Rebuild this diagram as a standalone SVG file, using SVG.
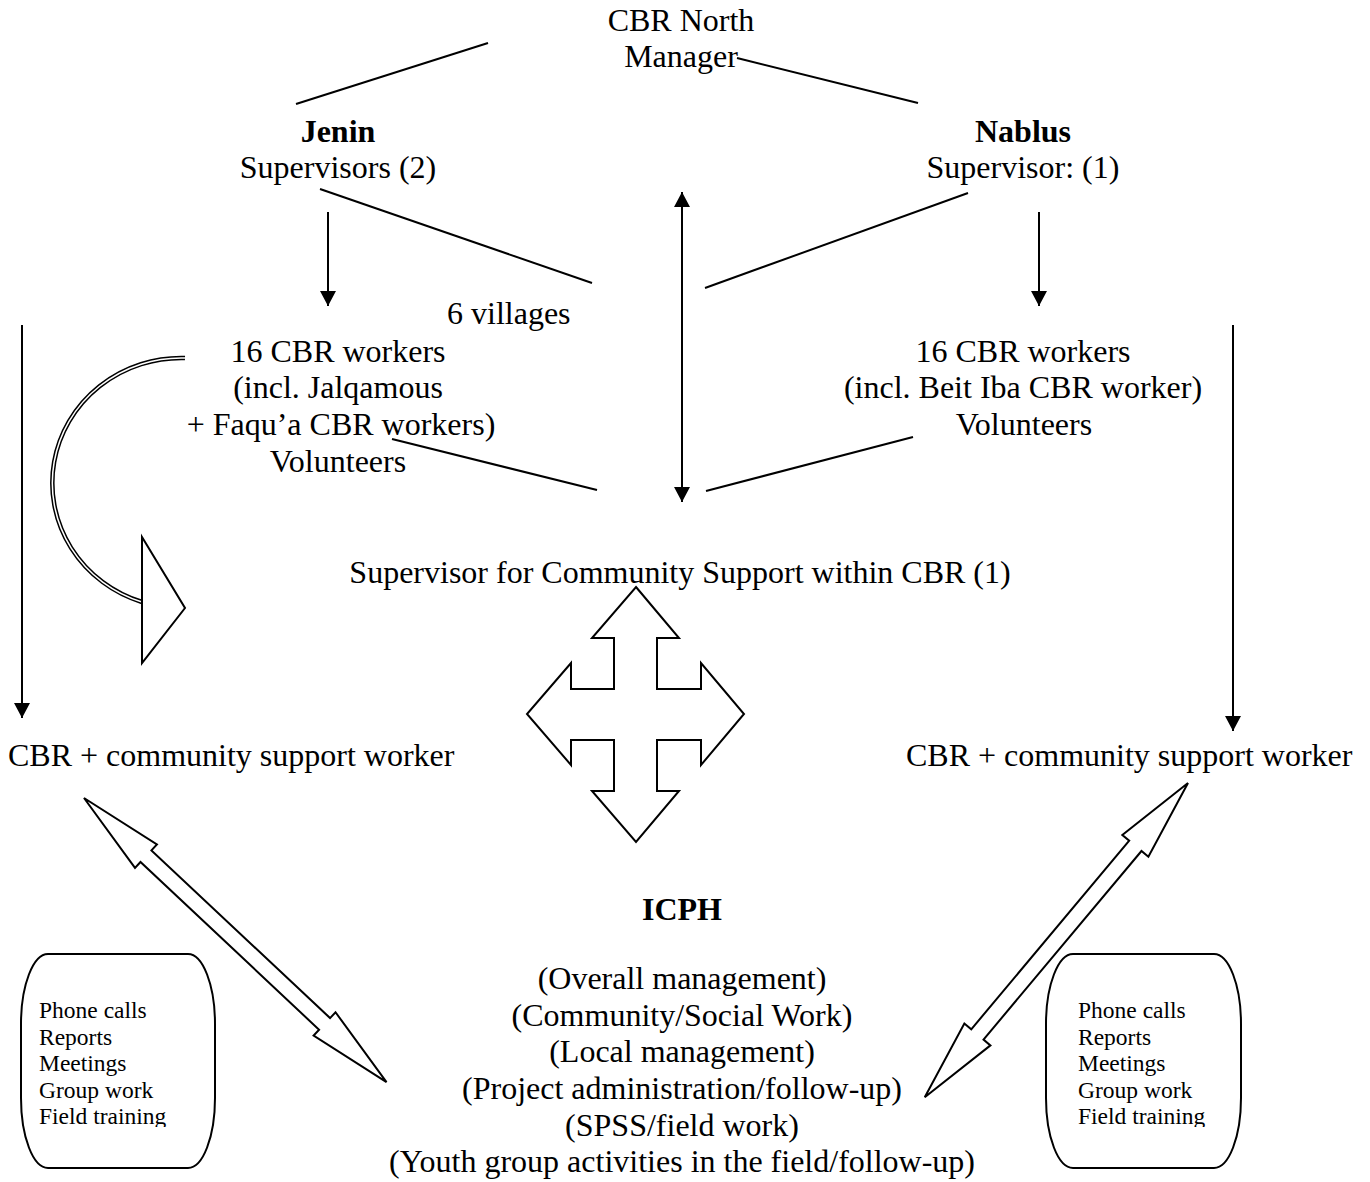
<svg xmlns="http://www.w3.org/2000/svg" width="1370" height="1182" viewBox="0 0 1370 1182">
<style>
  text { font-family: "Liberation Serif", "Times New Roman", serif; fill: #000; }
  .t { font-size: 32px; }
  .c { text-anchor: middle; }
  .b { font-weight: bold; }
  .s { font-size: 23.5px; }
  .ln { stroke: #000; stroke-width: 2; fill: none; }
  .arr { stroke: #000; stroke-width: 2; fill: none; marker-end: url(#ah); }
  .shape { stroke: #000; stroke-width: 2; fill: #fff; stroke-linejoin: miter; }
  .box { stroke: #000; stroke-width: 2; fill: #fff; }
</style>
<defs>
  <marker id="ah" viewBox="0 0 15 16" refX="15" refY="8" markerWidth="15" markerHeight="16" markerUnits="userSpaceOnUse" orient="auto-start-reverse">
    <path d="M0,0 L15,8 L0,16 Z" fill="#000"/>
  </marker>
  <clipPath id="clipL"><rect x="20" y="980" width="200" height="147"/></clipPath>
  <clipPath id="clipR"><rect x="1045" y="980" width="200" height="147"/></clipPath>
</defs>
<rect width="1370" height="1182" fill="#fff"/>

<g id="connectors">
  <line class="ln" x1="296" y1="104" x2="488" y2="43"/>
  <line class="ln" x1="737" y1="58" x2="918" y2="103"/>
  <line class="ln" x1="320" y1="189" x2="592" y2="283"/>
  <line class="ln" x1="705" y1="288" x2="968" y2="193"/>
  <line class="ln" x1="392" y1="439" x2="597" y2="490"/>
  <line class="ln" x1="706" y1="491" x2="913" y2="437"/>
  <line class="arr" x1="328" y1="212" x2="328" y2="306"/>
  <line class="arr" x1="1039" y1="212" x2="1039" y2="306"/>
  <line class="arr" x1="682" y1="192" x2="682" y2="502" style="marker-start:url(#ah)"/>
  <line class="arr" x1="22" y1="325" x2="22" y2="718"/>
  <line class="arr" x1="1233" y1="325" x2="1233" y2="731"/>
  <g id="curved-arrow">
    <path d="M185,358 A129,125 0 0 0 142,602" stroke="#000" stroke-width="4.5" fill="none"/>
    <path d="M185,358 A129,125 0 0 0 142,602" stroke="#fff" stroke-width="1.5" fill="none"/>
    <polygon class="shape" points="142,537 185,608 142,663"/>
  </g>
  <g id="four-way-arrow">
    <path class="shape" d="M636,587 L679,638 L657,638 L657,689 L701,689 L701,663 L744,714 L701,765 L701,740 L657,740 L657,791 L679,791 L636,842 L592,791 L614,791 L614,740 L571,740 L571,765 L527,714 L571,663 L571,689 L614,689 L614,638 L592,638 Z"/>
  </g>
  <g id="left-double-arrow" transform="translate(84,798) rotate(43.2)">
    <polygon class="shape" stroke-width="1.6" points="0,0 85,-16 85,-8 330,-8 330,-16 415,0 330,16 330,8 85,8 85,16"/>
  </g>
  <g id="right-double-arrow" transform="translate(1188,783) rotate(129.95)">
    <polygon class="shape" stroke-width="1.6" points="0,0 82,-17 82,-8 328,-8 328,-17 410,0 328,17 328,8 82,8 82,17"/>
  </g>
</g>

<g id="manager">
  <text class="t c" x="681" y="31">CBR North</text>
  <text class="t c" x="681" y="67">Manager</text>
</g>
<g id="jenin">
  <text class="t c b" x="338" y="142">Jenin</text>
  <text class="t c" x="338" y="178">Supervisors (2)</text>
</g>
<g id="nablus">
  <text class="t c b" x="1023" y="142">Nablus</text>
  <text class="t c" x="1023" y="178">Supervisor: (1)</text>
</g>
<g id="villages">
  <text class="t" x="447" y="324">6 villages</text>
</g>
<g id="jenin-workers">
  <text class="t c" x="338" y="362">16 CBR workers</text>
  <text class="t c" x="338" y="398">(incl. Jalqamous</text>
  <text class="t c" x="341" y="435">+ Faqu’a CBR workers)</text>
  <text class="t c" x="338" y="472">Volunteers</text>
</g>
<g id="nablus-workers">
  <text class="t c" x="1023" y="362">16 CBR workers</text>
  <text class="t c" x="1023" y="398">(incl. Beit Iba CBR worker)</text>
  <text class="t c" x="1024" y="435">Volunteers</text>
</g>
<g id="community-supervisor">
  <text class="t c" x="680" y="583">Supervisor for Community Support within CBR (1)</text>
</g>
<g id="left-worker">
  <text class="t" x="8" y="766">CBR + community support worker</text>
</g>
<g id="right-worker">
  <text class="t" x="906" y="766">CBR + community support worker</text>
</g>
<g id="icph">
  <text class="t c b" x="682" y="920">ICPH</text>
  <text class="t c" x="682" y="989">(Overall management)</text>
  <text class="t c" x="682" y="1026">(Community/Social Work)</text>
  <text class="t c" x="682" y="1062">(Local management)</text>
  <text class="t c" x="682" y="1099">(Project administration/follow-up)</text>
  <text class="t c" x="682" y="1136">(SPSS/field work)</text>
  <text class="t c" x="682" y="1172">(Youth group activities in the field/follow-up)</text>
</g>
<g id="left-box">
  <rect class="box" x="21" y="954" width="194" height="214" rx="27" ry="70"/>
  <g clip-path="url(#clipL)">
    <text class="s" x="39" y="1018">Phone calls</text>
    <text class="s" x="39" y="1045">Reports</text>
    <text class="s" x="39" y="1071">Meetings</text>
    <text class="s" x="39" y="1098">Group work</text>
    <text class="s" x="39" y="1124">Field training</text>
  </g>
</g>
<g id="right-box">
  <rect class="box" x="1046" y="954" width="195" height="214" rx="27" ry="70"/>
  <g clip-path="url(#clipR)">
    <text class="s" x="1078" y="1018">Phone calls</text>
    <text class="s" x="1078" y="1045">Reports</text>
    <text class="s" x="1078" y="1071">Meetings</text>
    <text class="s" x="1078" y="1098">Group work</text>
    <text class="s" x="1078" y="1124">Field training</text>
  </g>
</g>
</svg>
